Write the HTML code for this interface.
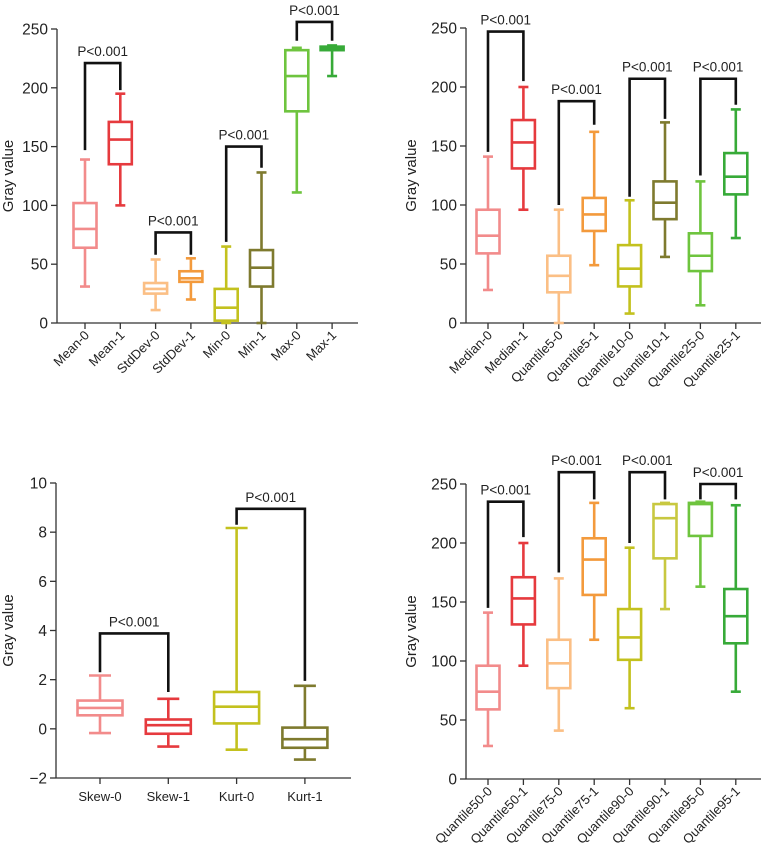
<!DOCTYPE html>
<html><head><meta charset="utf-8">
<style>
html,body{margin:0;padding:0;background:#fff;}
svg{display:block;font-family:"Liberation Sans",Arial,sans-serif;}
</style></head>
<body>
<svg id="fig" width="761" height="848" viewBox="0 0 761 848" xmlns="http://www.w3.org/2000/svg"></svg>
<script>
// ---- Panel A data (top-left)
const catsA = ["Mean-0","Mean-1","StdDev-0","StdDev-1","Min-0","Min-1","Max-0","Max-1"];
const minA = [31,100,11,20,0,0,111,210];
const q1A  = [64,135,25,35,2,31,180,232];
const medA = [80,156,29,38,13,47,210,234];
const q3A  = [102,171,34,44,29,62,232,235];
const maxA = [139,195,54,55,65,128,234,236];
const brA  = [[0,1,221,147,198],[2,3,77,58,58],[4,5,150,69,132],[6,7,256,240,240]];
const ticksA = [0,50,100,150,200,250];
// ---- Panel B data (top-right)
const catsB = ["Median-0","Median-1","Quantile5-0","Quantile5-1","Quantile10-0","Quantile10-1","Quantile25-0","Quantile25-1"];
const minB = [28,96,0,49,8,56,15,72];
const q1B  = [59,131,26,78,31,88,44,109];
const medB = [74,153,40,92,46,102,57,124];
const q3B  = [96,172,57,106,66,120,76,144];
const maxB = [141,200,96,162,104,170,120,181];
const brB  = [[0,1,247,145,205],[2,3,188,100,168],[4,5,207,107,173],[6,7,207,125,185]];
const ticksB = [0,50,100,150,200,250];
// ---- Panel C data (bottom-left)
const catsC = ["Skew-0","Skew-1","Kurt-0","Kurt-1"];
const minC = [-0.17,-0.72,-0.85,-1.25];
const q1C  = [0.55,-0.2,0.22,-0.77];
const medC = [0.85,0.15,0.9,-0.42];
const q3C  = [1.15,0.38,1.5,0.05];
const maxC = [2.17,1.22,8.17,1.75];
const brC  = [[0,1,3.88,2.3,1.5],[2,3,8.95,8.3,1.95]];
const ticksC = [-2,0,2,4,6,8,10];
const tickLabC = ["\u22122","0","2","4","6","8","10"];
// ---- Panel D data (bottom-right)
const catsD = ["Quantile50-0","Quantile50-1","Quantile75-0","Quantile75-1","Quantile90-0","Quantile90-1","Quantile95-0","Quantile95-1"];
const minD = [28,96,41,118,60,144,163,74];
const q1D  = [59,131,77,156,101,187,206,115];
const medD = [74,153,98,186,120,221,233,138];
const q3D  = [96,171,118,204,144,233,234,161];
const maxD = [141,200,170,234,196,234,235,232];
const brD  = [[0,1,235,145,205],[2,3,260,175,237],[4,5,260,200,237],[6,7,250,237,237]];
const ticksD = [0,50,100,150,200,250];

const colors8 = ["#f28b8b","#e63a3e","#fbbf85","#f39a3c","#c3c11e","#7e7a2e","#6ec43e","#37aa38"];
const colorsD = ["#f28b8b","#e63a3e","#fbbf85","#f39a3c","#c3c11e","#c8c840","#6ec43e","#37aa38"];
const colorsC = ["#f28b8b","#e63a3e","#c3c11e","#7e7a2e"];
const NS="http://www.w3.org/2000/svg";
const svg=document.getElementById('fig');
function mk(tag,attrs,parent){const e=document.createElementNS(NS,tag);for(const k in attrs)e.setAttribute(k,attrs[k]);(parent||svg).appendChild(e);return e;}

function panel(cfg){
  const g=mk('g',{});
  
  
  const y=v=>cfg.y0+(v-cfg.vmin)/(cfg.vmax-cfg.vmin)*(cfg.y1-cfg.y0);
  const x=i=>cfg.x0+i*cfg.step;
  const ya=mk('line',{x1:cfg.ax,y1:y(cfg.vmax),x2:cfg.ax,y2:y(cfg.vmin),stroke:"#333","stroke-width":1.3},g);
  
  
  const xa=mk('line',{x1:cfg.ax,y1:y(cfg.vmin),x2:cfg.axEnd,y2:y(cfg.vmin),stroke:"#333","stroke-width":1.3},g);
  
  
  cfg.ticks.forEach((t,i)=>{
    mk('line',{x1:cfg.ax-6,y1:y(t),x2:cfg.ax,y2:y(t),stroke:"#333","stroke-width":1.3},g);
    const tx=mk('text',{x:cfg.ax-9,y:y(t)+5.5,"text-anchor":"end","font-size":15.5,fill:"#222"},g);
    tx.textContent=cfg.tickLabels?cfg.tickLabels[i]:String(t);
    
    
  });
  const yl=mk('text',{x:0,y:0,"text-anchor":"middle","font-size":15,fill:"#222",transform:`translate(${cfg.ylx},${(y(cfg.vmin)+y(cfg.vmax))/2}) rotate(-90)`},g);
  yl.textContent="Gray value";
  
  
  const by=y(cfg.vmin);
  cfg.cats.forEach((c,i)=>{
    const cx=x(i), col=cfg.colors[i], bw=cfg.bw, cw=cfg.cw;
    mk('line',{x1:cx,y1:by,x2:cx,y2:by+6,stroke:"#333","stroke-width":1.3},g);
    const bx=mk('g',{stroke:col,"stroke-width":2.6,fill:"none"},g);
    
    
    mk('line',{x1:cx,y1:y(cfg.max[i]),x2:cx,y2:y(cfg.q3[i])},bx);
    mk('line',{x1:cx,y1:y(cfg.q1[i]),x2:cx,y2:y(cfg.min[i])},bx);
    mk('line',{x1:cx-cw/2,y1:y(cfg.max[i]),x2:cx+cw/2,y2:y(cfg.max[i])},bx);
    mk('line',{x1:cx-cw/2,y1:y(cfg.min[i]),x2:cx+cw/2,y2:y(cfg.min[i])},bx);
    mk('rect',{x:cx-bw/2,y:y(cfg.q3[i]),width:bw,height:Math.max(0.5,y(cfg.q1[i])-y(cfg.q3[i]))},bx);
    mk('line',{x1:cx-bw/2,y1:y(cfg.med[i]),x2:cx+bw/2,y2:y(cfg.med[i])},bx);
    let lab;
    if(cfg.rot){
      lab=mk('text',{x:0,y:0,"text-anchor":"end","font-size":13,fill:"#222",transform:`translate(${cx+5},${by+13}) rotate(-45)`},g);
    } else {
      lab=mk('text',{x:cx,y:by+23,"text-anchor":"middle","font-size":13,fill:"#222"},g);
    }
    lab.textContent=c;
    
    
  });
  cfg.br.forEach(b=>{
    const xa_=x(b[0]),xb=x(b[1]),top=y(b[2]);
    const p=mk('path',{d:`M${xa_},${y(b[3])}V${top}H${xb}V${y(b[4])}`,stroke:"#111","stroke-width":2.6,fill:"none"},g);
    
    
    const t=mk('text',{x:(xa_+xb)/2,y:top-7,"text-anchor":"middle","font-size":13.5,fill:"#222"},g);
    t.textContent="P<0.001";
    
    
  });
}
panel({name:"panel-mean-std-min-max",cats:catsA,min:minA,q1:q1A,med:medA,q3:q3A,max:maxA,br:brA,ticks:ticksA,
  vmin:0,vmax:250,y0:323,y1:29,ax:57,axEnd:358,x0:85,step:35.3,bw:23,cw:10,colors:colors8,ylx:13,rot:true});
panel({name:"panel-median-quantiles",cats:catsB,min:minB,q1:q1B,med:medB,q3:q3B,max:maxB,br:brB,ticks:ticksB,
  vmin:0,vmax:250,y0:323,y1:28,ax:466,axEnd:761,x0:488,step:35.4,bw:23,cw:10,colors:colors8,ylx:416,rot:true});
panel({name:"panel-skew-kurt",cats:catsC,min:minC,q1:q1C,med:medC,q3:q3C,max:maxC,br:brC,ticks:ticksC,tickLabels:tickLabC,
  vmin:-2,vmax:10,y0:778,y1:483,ax:56,axEnd:351,x0:100,step:68.3,bw:45,cw:22,colors:colorsC,ylx:13,rot:false});
panel({name:"panel-upper-quantiles",cats:catsD,min:minD,q1:q1D,med:medD,q3:q3D,max:maxD,br:brD,ticks:ticksD,
  vmin:0,vmax:250,y0:779,y1:484,ax:466,axEnd:761,x0:488,step:35.4,bw:23,cw:10,colors:colorsD,ylx:416,rot:true});
</script>
</body></html>
